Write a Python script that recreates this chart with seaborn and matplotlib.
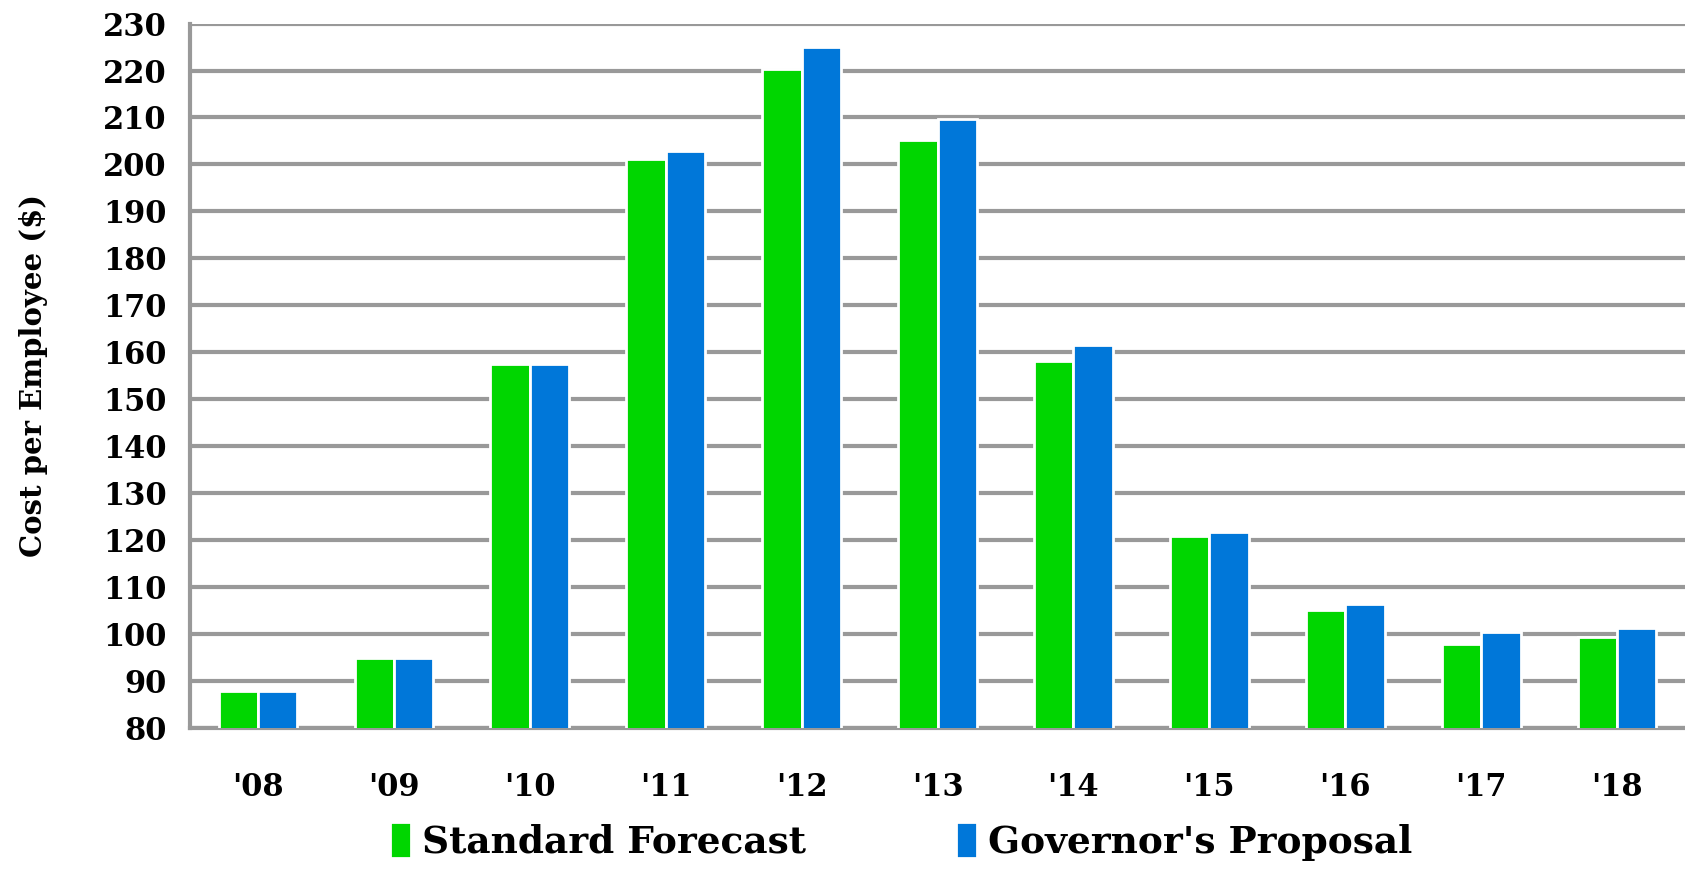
import numpy as np
import pandas as pd
import matplotlib
matplotlib.use("Agg")
import matplotlib.pyplot as plt
import seaborn as sns

# data
years = ["'08", "'09", "'10", "'11", "'12", "'13", "'14", "'15", "'16", "'17", "'18"]
standard_forecast = [87.8, 94.9, 157.5, 201.1, 220.4, 205.2, 158.2, 120.9, 105.0, 97.7, 99.3]
governors_proposal = [87.8, 94.9, 157.5, 202.8, 225.1, 209.7, 161.6, 121.6, 106.4, 100.4, 101.2]
series_names = ["Standard Forecast", "Governor's Proposal"]
series_colors = ["#00D600", "#0077D9"]
y_ticks = list(range(80, 231, 10))

sns.set_style("white")
plt.rcParams['font.family'] = ['DejaVu Serif Condensed', 'DejaVu Serif']
plt.rcParams['text.color'] = 'black'
plt.rcParams['xtick.color'] = 'black'
plt.rcParams['ytick.color'] = 'black'
plt.rcParams['axes.labelcolor'] = 'black'

df = pd.DataFrame({
    'Year': years * 2,
    'Cost': standard_forecast + governors_proposal,
    'Series': [series_names[0]] * len(years) + [series_names[1]] * len(years),
})

fig = plt.figure(figsize=(16.85, 8.69), dpi=100)
ax = fig.add_axes([0.1128, 0.1628, 0.8872, 0.81])

sns.barplot(data=df, x='Year', y='Cost', hue='Series', order=years,
            hue_order=series_names, palette=series_colors, width=0.58,
            gap=0.0, edgecolor='white', linewidth=2, saturation=1,
            ax=ax, zorder=3)

grid_color = '#999999'
ax.set_ylim(80, 230)
ax.set_xlim(-0.5, len(years) - 0.5)
ax.set_yticks(y_ticks)
ax.yaxis.grid(True, color=grid_color, linewidth=3, zorder=0)
ax.set_axisbelow(True)

for side in ['top', 'right']:
    ax.spines[side].set_visible(False)
for side in ['left', 'bottom']:
    ax.spines[side].set_color(grid_color)
    ax.spines[side].set_linewidth(3)

# tick marks sit between the categories
ax.set_xticks(np.arange(-0.5, len(years) + 0.5, 1), minor=True)
ax.tick_params(axis='x', which='minor', length=11, width=2.5,
               color=grid_color, direction='out')
ax.tick_params(axis='x', which='major', length=0, pad=32, labelsize=22)
ax.tick_params(axis='y', length=8, width=3, color=grid_color, pad=9,
               labelsize=22)
for lab in ax.get_xticklabels() + ax.get_yticklabels():
    lab.set_fontweight('bold')

ax.set_xlabel('')
ax.set_ylabel('Cost per Employee ($)', fontsize=21, fontweight='bold')
ax.yaxis.set_label_coords(-0.095, 0.5)

handles, labels = ax.get_legend_handles_labels()
ax.get_legend().remove()
fig.legend(handles, labels, loc='center', bbox_to_anchor=(0.535, 0.032),
           ncol=2, frameon=False, prop={'size': 27, 'weight': 'bold'},
           handlelength=0.55, handleheight=1.1, handletextpad=0.3,
           columnspacing=4.0)

plt.savefig('out.png', dpi=100)
